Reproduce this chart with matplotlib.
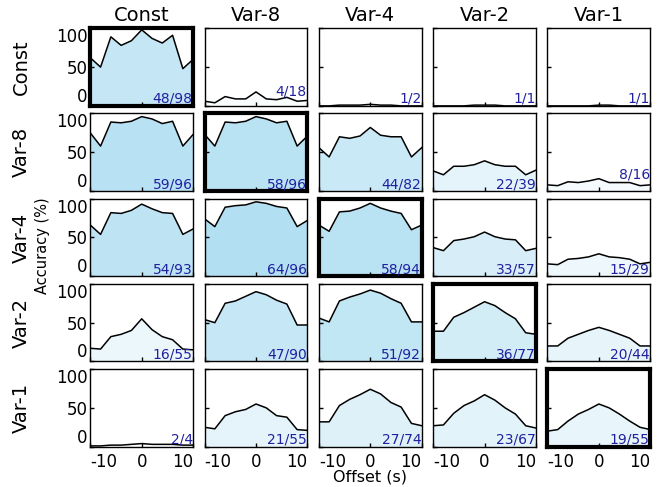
import matplotlib
matplotlib.use("Agg")
import matplotlib.pyplot as plt

# offsets (s) at which accuracy was measured
offsets = [-10, -8, -6, -4, -2, 0, 2, 4, 6, 8, 10]
names = ['Const', 'Var-8', 'Var-4', 'Var-2', 'Var-1']

# accuracy curves, one list per row (train setting), one curve per column (test setting)
acc_const = [
    [62, 50, 89, 78, 84, 98, 87, 81, 91, 48, 60],
    [6, 4, 12, 9, 9, 18, 9, 8, 11, 6, 7],
    [0, 0, 1, 1, 1, 2, 1, 1, 0, 0, 0],
    [0, 0, 0, 0, 1, 1, 1, 0, 0, 0, 0],
    [0, 0, 0, 0, 0, 1, 1, 0, 0, 0, 0],
]
acc_var8 = [
    [75, 58, 89, 88, 90, 96, 93, 87, 90, 58, 73],
    [73, 58, 89, 88, 90, 96, 93, 88, 90, 58, 71],
    [56, 44, 70, 68, 71, 82, 72, 70, 70, 44, 56],
    [26, 21, 32, 32, 34, 39, 34, 32, 32, 21, 27],
    [8, 7, 12, 11, 13, 16, 11, 11, 11, 7, 8],
]
acc_var4 = [
    [66, 54, 82, 81, 85, 93, 87, 82, 81, 54, 61],
    [74, 64, 89, 91, 92, 96, 94, 90, 88, 64, 72],
    [66, 58, 83, 84, 88, 94, 88, 84, 81, 60, 66],
    [37, 33, 46, 48, 51, 57, 51, 48, 47, 33, 36],
    [16, 15, 22, 23, 25, 29, 25, 24, 22, 16, 18],
]
acc_var2 = [
    [17, 16, 32, 35, 40, 55, 41, 32, 28, 16, 15],
    [54, 50, 75, 78, 84, 90, 86, 79, 74, 47, 47],
    [56, 51, 78, 83, 87, 92, 88, 81, 75, 51, 51],
    [39, 39, 57, 63, 70, 77, 72, 63, 55, 37, 35],
    [20, 20, 30, 35, 40, 44, 40, 35, 30, 20, 20],
]
acc_var1 = [
    [1, 1, 2, 2, 3, 4, 3, 3, 3, 2, 2],
    [25, 23, 40, 45, 48, 55, 50, 40, 38, 22, 21],
    [32, 32, 53, 61, 67, 74, 68, 57, 51, 30, 27],
    [27, 28, 43, 53, 59, 67, 60, 50, 42, 27, 24],
    [20, 22, 33, 42, 48, 55, 50, 42, 33, 25, 22],
]
acc_rows = [acc_const, acc_var8, acc_var4, acc_var2, acc_var1]

# corner annotation "score/peak"
score = [
    [48, 4, 1, 1, 1],
    [59, 58, 44, 22, 8],
    [54, 64, 58, 33, 15],
    [16, 47, 51, 36, 20],
    [2, 21, 27, 23, 19],
]
peak = [
    [98, 18, 2, 1, 1],
    [96, 96, 82, 39, 16],
    [93, 96, 94, 57, 29],
    [55, 90, 92, 77, 44],
    [4, 55, 74, 67, 55],
]

# a couple of annotations sit higher so they clear the curve
label_lift = {(0, 1): 0.09, (1, 4): 0.12}

fig, axes = plt.subplots(5, 5, figsize=(6.6, 4.87), dpi=100)
fig.subplots_adjust(left=0.1368, right=0.9853, top=0.9419, bottom=0.0828,
                    wspace=0.111, hspace=0.098)

for i in range(5):
    for j in range(5):
        ax = axes[i, j]
        vals = acc_rows[i][j]
        ax.fill_between(offsets, 0, vals, color='skyblue', alpha=score[i][j] / 100, lw=0)
        ax.plot(offsets, vals, color='black', lw=1.1)
        ax.set_xlim(-10, 10)
        ax.set_ylim(0, 100)
        ax.set_xticks([-10, 0, 10])
        ax.set_yticks([0, 50, 100])
        ax.tick_params(direction='in', length=3, width=1, top=False, right=False)
        ax.tick_params(axis='y', pad=2, labelsize=12)
        ax.tick_params(axis='x', pad=4.5, labelsize=12)

        if j == 0:
            ax.set_yticklabels(['0', '50', '100'])
            ylabs = ax.get_yticklabels()
            ylabs[0].set_va('bottom')
            ylabs[2].set_va('top')
        else:
            ax.tick_params(labelleft=False)
        if i == 4:
            ax.set_xticklabels(['-10', '0', '10'])
            xlabs = ax.get_xticklabels()
            xlabs[0].set_ha('left')
            xlabs[2].set_ha('right')
        else:
            ax.tick_params(labelbottom=False)

        lw = 3 if i == j else 1
        for sp in ax.spines.values():
            sp.set_linewidth(lw)
            sp.set_color('black')

        ty = label_lift.get((i, j), 0.0)
        ax.text(0.995, ty, f"{score[i][j]}/{peak[i][j]}", transform=ax.transAxes,
                ha='right', va='bottom', fontsize=10, color='#2020a0')

        if i == 0:
            ax.set_title(names[j], fontsize=14, pad=5)

    # row label
    bb = axes[i, 0].get_position()
    fig.text(21 / 660, (bb.y0 + bb.y1) / 2, names[i], rotation=90,
             ha='center', va='center', fontsize=14)

fig.text(43 / 660, 1 - 246 / 487, 'Accuracy (%)', rotation=90,
         ha='center', va='center', fontsize=10.5)
fig.text(0.561, 0.0205, 'Offset (s)', ha='center', va='center', fontsize=11.5)

plt.savefig('out.png', dpi=100)
plt.close(fig)
